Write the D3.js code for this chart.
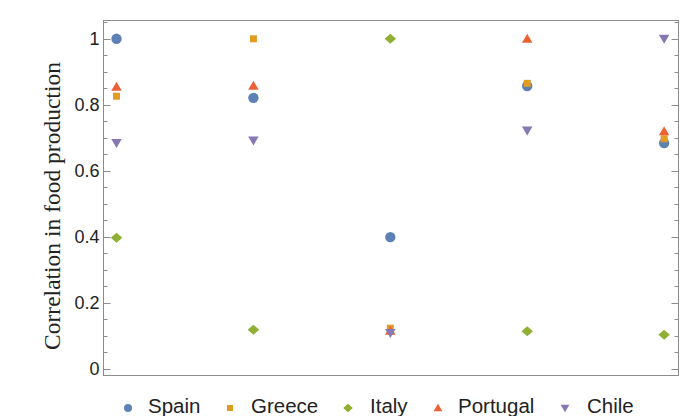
<!DOCTYPE html>
<html>
<head>
<meta charset="utf-8">
<script src="https://cdn.jsdelivr.net/npm/d3@7"></script>
<style>
  html, body { margin: 0; padding: 0; background: #fff; }
  svg { display: block; }
</style>
</head>
<body>
<svg id="chart" width="697" height="416"></svg>
<script>
// categories along x (no labels shown in the figure)
const positions = [1, 2, 3, 4, 5];
const countries = ['Spain', 'Greece', 'Italy', 'Portugal', 'Chile'];
const colors = ['#5e81b5', '#e19c24', '#8fb032', '#eb6235', '#8778b3'];

// correlation values, one array per country
const spain    = [1.00, 0.821, 0.399, 0.857, 0.684];
const greece   = [0.826, 1.00, 0.123, 0.865, 0.697];
const italy    = [0.397, 0.118, 1.00, 0.114, 0.103];
const portugal = [0.855, 0.858, 0.115, 1.00, 0.72];
const chile    = [0.684, 0.692, 0.108, 0.722, 1.00];
const series = [spain, greece, italy, portugal, chile];

const yTicks = [0, 0.2, 0.4, 0.6, 0.8, 1];

const svg = d3.select('#chart');
const frame = { left: 103.5, right: 678.5, top: 20.5, bottom: 375.5 };

const x = d3.scaleLinear([0.905, 5.105], [frame.left, frame.right]);
const y = d3.scaleLinear([-0.0205, 1.0555], [frame.bottom, frame.top]);

/*
Marker shapes, drawn around (0,0).
*/
const shapes = {
  circle: s => d3.symbol(d3.symbolCircle, Math.PI * s * s)(),
  square: s => `M${-s},${-s}H${s}V${s}H${-s}Z`,
  diamond: s => `M${-s * 1.15},0L0,${-s}L${s * 1.15},0L0,${s}Z`,
  up: s => `M0,${-s}L${s * 1.05},${s * 0.8}L${-s * 1.05},${s * 0.8}Z`,
  down: s => `M0,${s}L${s * 1.05},${-s * 0.8}L${-s * 1.05},${-s * 0.8}Z`
};
const shapeOf = ['circle', 'square', 'diamond', 'up', 'down'];
const plotSize = [5.2, 3.5, 5, 5, 5];
const legendSize = [4, 3, 4.2, 4.2, 4.2];

/*
Frame and ticks.
*/
svg.append('rect')
  .attr('x', frame.left).attr('y', frame.top)
  .attr('width', frame.right - frame.left).attr('height', frame.bottom - frame.top)
  .attr('fill', 'none').attr('stroke', '#8c8c8c').attr('stroke-width', 1);

const minor = d3.range(0, 1.0501, 0.05);
[frame.left, frame.right].forEach((fx, i) => {
  const dir = i === 0 ? 1 : -1;
  svg.append('g').selectAll('line')
    .data(minor)
    .join('line')
    .attr('x1', fx)
    .attr('x2', v => fx + dir * (Math.abs(v * 5 - Math.round(v * 5)) < 1e-6 ? 7 : 4))
    .attr('y1', v => Math.round(y(v)) + 0.5)
    .attr('y2', v => Math.round(y(v)) + 0.5)
    .attr('stroke', '#8c8c8c').attr('stroke-width', 1);
});

svg.append('g').selectAll('text')
  .data(yTicks)
  .join('text')
  .attr('x', 99.5)
  .attr('y', v => y(v))
  .attr('dy', '0.36em')
  .attr('text-anchor', 'end')
  .attr('font-family', 'Liberation Sans, Arial, sans-serif')
  .attr('font-size', 18)
  .attr('fill', '#222')
  .text(v => v === 0 ? '0' : v === 1 ? '1' : d3.format('.1f')(v));

svg.append('text')
  .attr('transform', `translate(60,206) rotate(-90)`)
  .attr('text-anchor', 'middle')
  .attr('font-family', 'Liberation Serif, Times New Roman, serif')
  .attr('font-size', 23.5)
  .attr('fill', '#222')
  .text('Correlation in food production');

/*
Points.
*/
series.forEach((vals, k) => {
  svg.append('g').selectAll('path')
    .data(vals)
    .join('path')
    .attr('transform', (v, i) => `translate(${x(positions[i])},${y(v)})`)
    .attr('d', shapes[shapeOf[k]](plotSize[k]))
    .attr('fill', colors[k]);
});

/*
Legend.
*/
const legendX = [128, 230, 348, 438, 565];
const legendTextX = [148, 251, 370, 458, 587];
const legend = svg.append('g');
countries.forEach((c, k) => {
  legend.append('path')
    .attr('transform', `translate(${legendX[k]},408)`)
    .attr('d', shapes[shapeOf[k]](legendSize[k]))
    .attr('fill', colors[k]);
  legend.append('text')
    .attr('x', legendTextX[k])
    .attr('y', 413)
    .attr('font-family', 'Liberation Sans, Arial, sans-serif')
    .attr('font-size', 20.5)
    .attr('fill', '#222')
    .text(c);
});
</script>
</body>
</html>
